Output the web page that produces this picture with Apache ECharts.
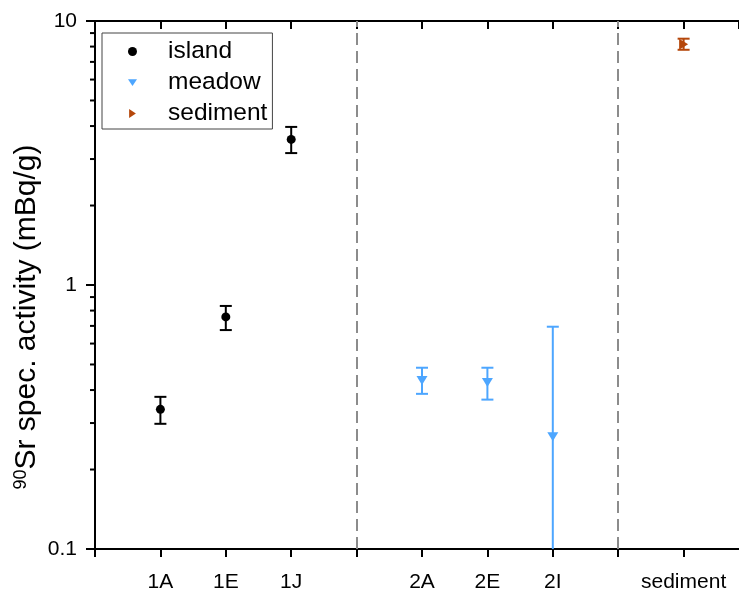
<!DOCTYPE html>
<html><head><meta charset="utf-8">
<script src="https://cdn.jsdelivr.net/npm/echarts@6/dist/echarts.min.js"></script>
<style>html,body{margin:0;padding:0;background:#fff}#c{width:739px;height:595px}</style>
</head><body><div id="c"></div>
<script>
// ---- data ----
const tickLabels = ['', '1A', '1E', '1J', '', '2A', '2E', '2I', '', 'sediment'];
const islandX = [1, 2, 3];
const islandY = [0.338, 0.757, 3.56];
const islandLow = [0.298, 0.675, 3.16];
const islandHigh = [0.377, 0.833, 3.97];
const meadowX = [5, 6, 7];
const meadowY = [0.435, 0.427, 0.266];
const meadowLow = [0.387, 0.368, 0.02];
const meadowHigh = [0.486, 0.486, 0.695];
const sedimentX = [9];
const sedimentY = [8.16];
const sedimentLow = [7.78];
const sedimentHigh = [8.57];
const separators = [4, 8];
const minorTicks = [0.2, 0.3, 0.4, 0.5, 0.6, 0.7, 0.8, 0.9, 2, 3, 4, 5, 6, 7, 8, 9];

const FONT = "'Liberation Sans', Arial, sans-serif";
const BLACK = '#000000', BLUE = '#4da6ff', BROWN = '#b5470b';

function zip(a, b) { return a.map((v, i) => [v, b[i]]); }
function zip3(a, b, c) { return a.map((v, i) => [v, b[i], c[i]]); }

function errRender(color) {
  return function (params, api) {
    const x = api.value(0), lo = api.value(1), hi = api.value(2);
    const p1 = api.coord([x, hi]), p2 = api.coord([x, lo]);
    const w = 6;
    const st = { stroke: color, lineWidth: 2 };
    return {
      type: 'group', children: [
        { type: 'line', shape: { x1: p1[0], y1: p1[1], x2: p2[0], y2: p2[1] }, style: st },
        { type: 'line', shape: { x1: p1[0] - w, y1: p1[1], x2: p1[0] + w, y2: p1[1] }, style: st },
        { type: 'line', shape: { x1: p2[0] - w, y1: p2[1], x2: p2[0] + w, y2: p2[1] }, style: st }
      ]
    };
  };
}
function errSeries(name, xs, lo, hi, color) {
  return {
    type: 'custom', name: name, clip: true, z: 2,
    renderItem: errRender(color),
    encode: { x: 0, y: [1, 2] },
    data: zip3(xs, lo, hi)
  };
}

const chart = echarts.init(document.getElementById('c'), null, { renderer: 'canvas' });
const xCommon = { type: 'value', min: 0, max: 9.847, interval: 1, splitLine: { show: false } };
chart.setOption({
  animation: false,
  backgroundColor: '#fff',
  grid: { left: 95, right: 0, top: 21, bottom: 46, containLabel: false },
  xAxis: [
    Object.assign({}, xCommon, {
      position: 'bottom',
      axisLine: { show: true, onZero: false, lineStyle: { color: BLACK, width: 2 } },
      axisTick: { show: true, inside: false, length: 8, lineStyle: { color: BLACK, width: 2 } },
      axisLabel: {
        show: true, margin: 23, fontSize: 21, fontFamily: FONT, color: BLACK,
        showMaxLabel: false,
        formatter: v => (Number.isInteger(v) ? (tickLabels[v] || '') : '')
      }
    }),
    Object.assign({}, xCommon, {
      position: 'top',
      axisLine: { show: true, onZero: false, lineStyle: { color: BLACK, width: 2 } },
      axisTick: { show: true, inside: true, length: 8, lineStyle: { color: BLACK, width: 2 } },
      axisLabel: { show: false }
    })
  ],
  yAxis: [
    {
      type: 'log', logBase: 10, min: 0.1, max: 10, position: 'left',
      axisLine: { show: true, onZero: false, lineStyle: { color: BLACK, width: 2 } },
      axisTick: { show: true, inside: false, length: 9, lineStyle: { color: BLACK, width: 2 } },
      splitLine: { show: false },
      axisLabel: {
        margin: 18, fontSize: 21, fontFamily: FONT, color: BLACK,
        formatter: v => String(+(+v).toPrecision(3))
      }
    },
    {
      type: 'log', logBase: 10, min: 0.1, max: 10, position: 'right',
      axisLine: { show: false },
      axisTick: { show: true, inside: true, length: 4, lineStyle: { color: BLACK, width: 2 } },
      splitLine: { show: false },
      axisLabel: { show: false }
    }
  ],
  legend: {
    data: [
      { name: 'island', icon: 'circle' },
      { name: 'meadow', icon: 'path://M0,0 L12,0 L6,9 Z' },
      { name: 'sediment', icon: 'path://M0,0 L9,6 L0,12 Z' }
    ],
    orient: 'vertical', left: 102, top: 33,
    padding: [6, 5, 3, 26],
    itemWidth: 9, itemHeight: 9, itemGap: 6,
    borderColor: '#444', borderWidth: 1, backgroundColor: '#fff',
    textStyle: { fontSize: 24.5, fontFamily: FONT, color: BLACK, padding: [0, 0, 0, 26] },
    selectedMode: false
  },
  graphic: [{
    type: 'text', x: 27, y: 317, rotation: Math.PI / 2,
    style: {
      text: '{sup|90}{main|Sr spec. activity (mBq/g)}',
      rich: {
        sup: { fontSize: 18, fontFamily: FONT, fill: BLACK, verticalAlign: 'top', lineHeight: 30 },
        main: { fontSize: 30, fontFamily: FONT, fill: BLACK, lineHeight: 30 }
      },
      align: 'center', verticalAlign: 'middle'
    }
  }],
  series: [
    {
      type: 'custom', name: 'minorTicks', clip: false, silent: true,
      encode: { x: 0, y: 1 },
      renderItem: function (params, api) {
        const p = api.coord([api.value(0), api.value(1)]);
        return { type: 'line', shape: { x1: p[0] - 5, y1: p[1], x2: p[0], y2: p[1] }, style: { stroke: BLACK, lineWidth: 2 } };
      },
      data: minorTicks.map(v => [0, v])
    },
    errSeries('island-err', islandX, islandLow, islandHigh, BLACK),
    errSeries('meadow-err', meadowX, meadowLow, meadowHigh, BLUE),
    errSeries('sediment-err', sedimentX, sedimentLow, sedimentHigh, BROWN),
    {
      type: 'scatter', name: 'island', symbol: 'circle', symbolSize: 9, z: 3,
      itemStyle: { color: BLACK, opacity: 1 },
      data: zip(islandX, islandY),
      markLine: {
        silent: true, symbol: 'none', label: { show: false },
        lineStyle: { type: [12, 6], color: '#8c8c8c', width: 2 },
        data: separators.map(v => ({ xAxis: v }))
      }
    },
    {
      type: 'scatter', name: 'meadow', symbol: 'triangle', symbolRotate: 180, symbolSize: [11, 9], z: 3,
      itemStyle: { color: BLUE, opacity: 1 },
      data: zip(meadowX, meadowY)
    },
    {
      type: 'scatter', name: 'sediment', symbol: 'triangle', symbolRotate: -90, symbolSize: [11, 9], z: 3,
      itemStyle: { color: BROWN, opacity: 1 },
      data: zip(sedimentX, sedimentY)
    }
  ]
});
</script>
</body></html>
